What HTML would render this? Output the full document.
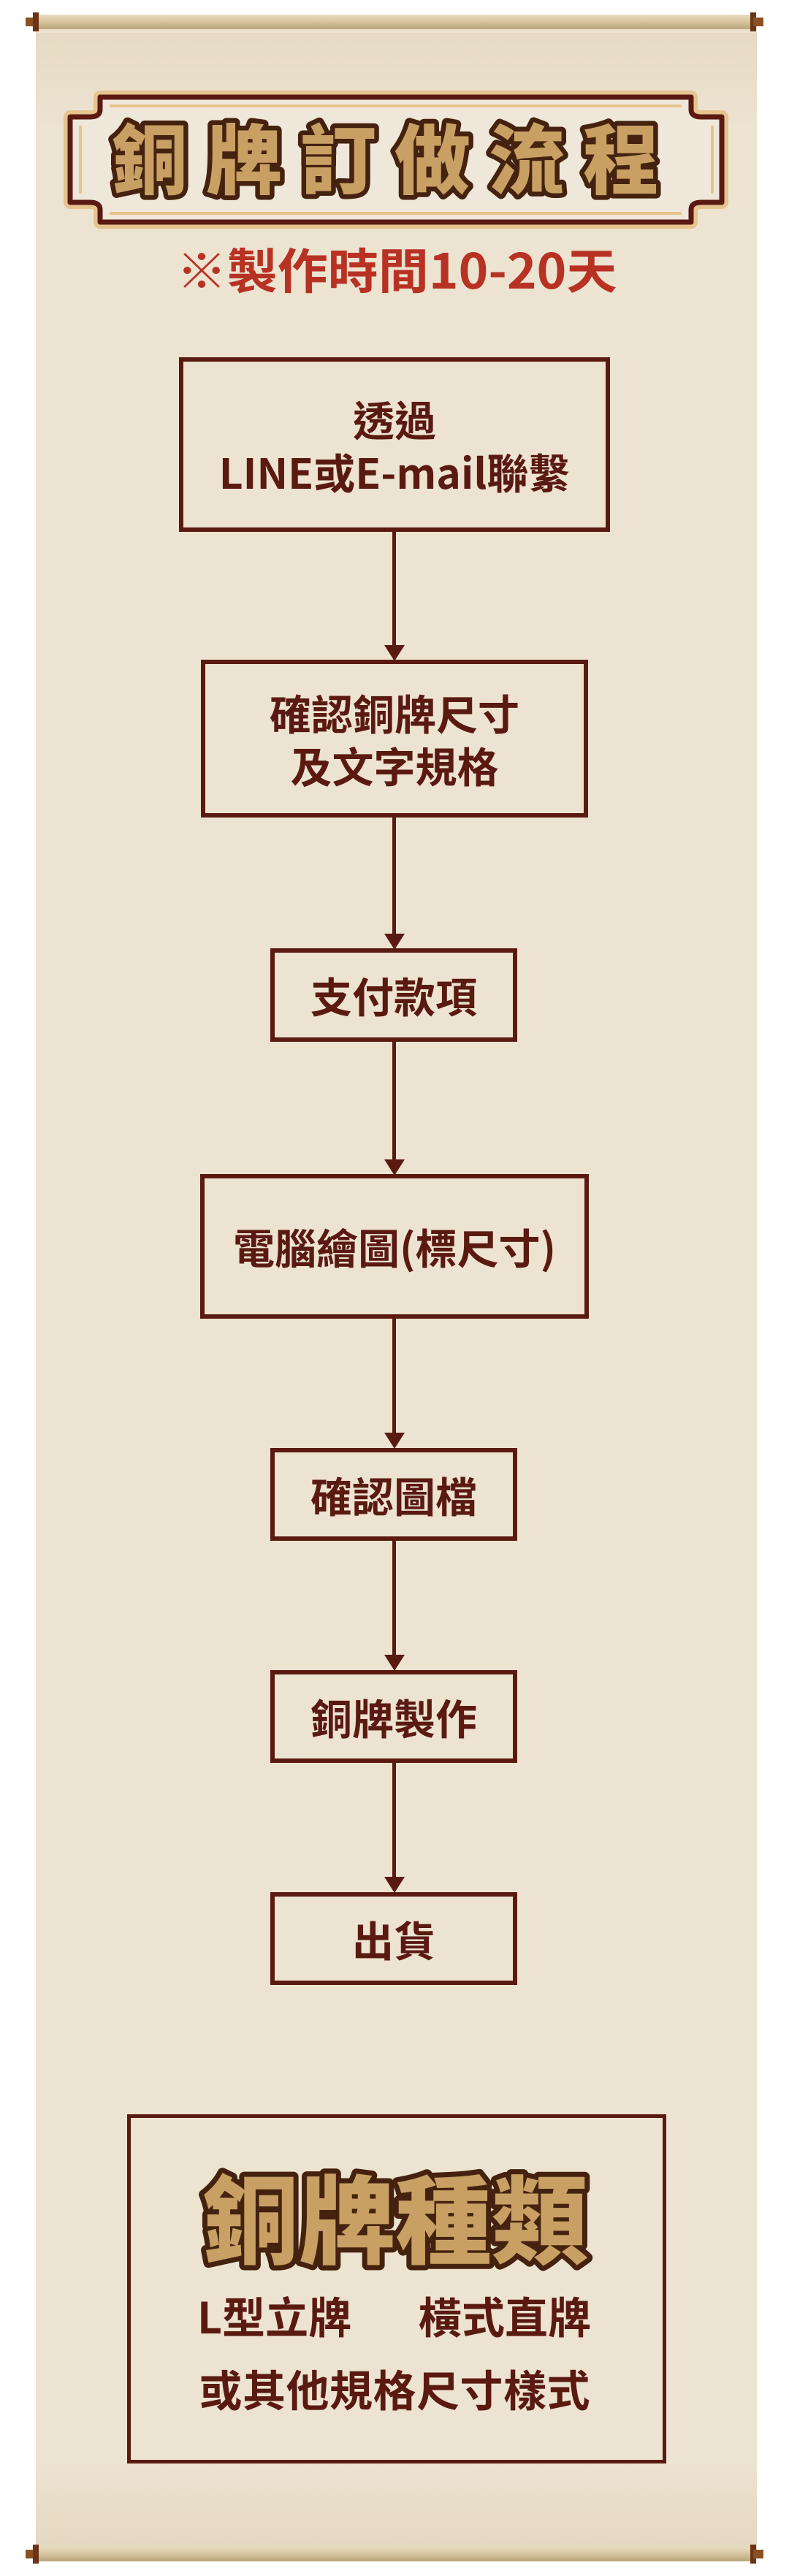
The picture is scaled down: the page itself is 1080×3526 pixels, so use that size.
<!DOCTYPE html>
<html><head><meta charset="utf-8">
<style>
html,body{margin:0;padding:0;background:#fff;}
body{width:1080px;height:3526px;position:relative;overflow:hidden;font-family:"Noto Sans CJK TC",sans-serif;}
.paper{position:absolute;left:49px;top:30px;width:987px;height:3470px;background:#ede3d1;}
.wave{position:absolute;left:49px;width:987px;height:100px;}
.rod{position:absolute;left:30px;width:1020px;height:26px;}
.box{position:absolute;border:6px solid #5a1a12;box-sizing:border-box;display:flex;align-items:center;justify-content:center;text-align:center;color:#5a1a12;font-weight:bold;font-size:57px;line-height:72px;font-family:"Noto Sans CJK TC",sans-serif;}
.line{position:absolute;left:537px;width:5px;background:#5a1a12;}
.head{position:absolute;left:526px;width:0;height:0;border-left:14px solid transparent;border-right:14px solid transparent;border-top:22px solid #5a1a12;}
.gold{font-family:"Noto Sans CJK TC",sans-serif;font-weight:900;fill:#c9a063;stroke:#44220f;paint-order:stroke;stroke-linejoin:round;}
.t{font-family:"Noto Sans CJK TC",sans-serif;font-weight:bold;}
</style></head><body>
<div class="paper"></div>
<div class="wave" style="top:45px;height:130px;background:linear-gradient(#e4d8c0,#ede3d1);opacity:.8"></div>
<div class="wave" style="top:3370px;height:120px;background:linear-gradient(#ede3d1,#e2d5bc);opacity:.8"></div>
<svg class="rod" style="top:17px" viewBox="0 0 1020 26"><defs><linearGradient id="r" x1="0" y1="0" x2="0" y2="1"><stop offset="0" stop-color="#e8dcc0"/><stop offset=".5" stop-color="#d6c49e"/><stop offset="1" stop-color="#b9a47a"/></linearGradient></defs><rect x="15" y="3" width="990" height="20" fill="url(#r)"/><rect x="5" y="7" width="14" height="12" fill="#8a4f22"/><rect x="15" y="0" width="8" height="26" fill="#6b3416"/><rect x="997" y="0" width="8" height="26" fill="#6b3416"/><rect x="1001" y="7" width="14" height="12" fill="#8a4f22"/></svg>
<svg class="rod" style="top:3483px" viewBox="0 0 1020 26"><rect x="15" y="3" width="990" height="20" fill="url(#r)"/><rect x="5" y="7" width="14" height="12" fill="#8a4f22"/><rect x="15" y="0" width="8" height="26" fill="#6b3416"/><rect x="997" y="0" width="8" height="26" fill="#6b3416"/><rect x="1001" y="7" width="14" height="12" fill="#8a4f22"/></svg>

<svg style="position:absolute;left:0;top:0" width="1080" height="460">
<path d="M137,133 H946 V150 Q946,160 960,160 H988 V277 H960 Q946,277 946,287 V304 H137 V287 Q137,277 123,277 H96 V160 H123 Q137,160 137,150 Z" fill="#efe7d9" stroke="#e6c48e" stroke-width="18" stroke-linejoin="round"/>
<path d="M137,133 H946 V150 Q946,160 960,160 H988 V277 H960 Q946,277 946,287 V304 H137 V287 Q137,277 123,277 H96 V160 H123 Q137,160 137,150 Z" fill="#efe7d9" stroke="#5a1a12" stroke-width="7" stroke-linejoin="round"/>
<path d="M150,145 H933 M150,292 H933 M110,172 V265 M975,172 V265" stroke="#e6c48e" stroke-width="4" fill="none"/>
<text class="gold" x="540" y="257" text-anchor="middle" font-size="104" stroke-width="13" letter-spacing="25">銅牌訂做流程</text>
<text class="t" x="543" y="395" text-anchor="middle" font-size="66" fill="#b83224" textLength="603" lengthAdjust="spacingAndGlyphs">※製作時間10-20天</text>
</svg>

<div class="box" style="left:245px;top:489px;width:590px;height:239px;">透過<br>LINE或E-mail聯繫</div>
<div class="line" style="top:728px;height:160px"></div><div class="head" style="top:883px"></div>
<div class="box" style="left:275px;top:903px;width:530px;height:216px;">確認銅牌尺寸<br>及文字規格</div>
<div class="line" style="top:1119px;height:165px"></div><div class="head" style="top:1278px"></div>
<div class="box" style="left:370px;top:1298px;width:338px;height:128px;">支付款項</div>
<div class="line" style="top:1426px;height:165px"></div><div class="head" style="top:1587px"></div>
<div class="box" style="left:274px;top:1607px;width:532px;height:198px;">電腦繪圖(標尺寸)</div>
<div class="line" style="top:1805px;height:160px"></div><div class="head" style="top:1961px"></div>
<div class="box" style="left:370px;top:1982px;width:338px;height:127px;">確認圖檔</div>
<div class="line" style="top:2109px;height:160px"></div><div class="head" style="top:2265px"></div>
<div class="box" style="left:370px;top:2286px;width:338px;height:127px;">銅牌製作</div>
<div class="line" style="top:2413px;height:160px"></div><div class="head" style="top:2569px"></div>
<div class="box" style="left:370px;top:2590px;width:338px;height:127px;">出貨</div>

<div class="box" style="left:174px;top:2894px;width:738px;height:478px;border-width:5px;"></div>
<svg style="position:absolute;left:0;top:2900px" width="1080" height="460">
<text class="gold" x="541" y="188" text-anchor="middle" font-size="132" stroke-width="14">銅牌種類</text>
<text class="t" x="270" y="294" font-size="59" fill="#5a1a12">L型立牌</text>
<text class="t" x="573" y="294" font-size="59" fill="#5a1a12">橫式直牌</text>
<text class="t" x="540" y="394" text-anchor="middle" font-size="59" fill="#5a1a12" textLength="535">或其他規格尺寸樣式</text>
</svg>
</body></html>
